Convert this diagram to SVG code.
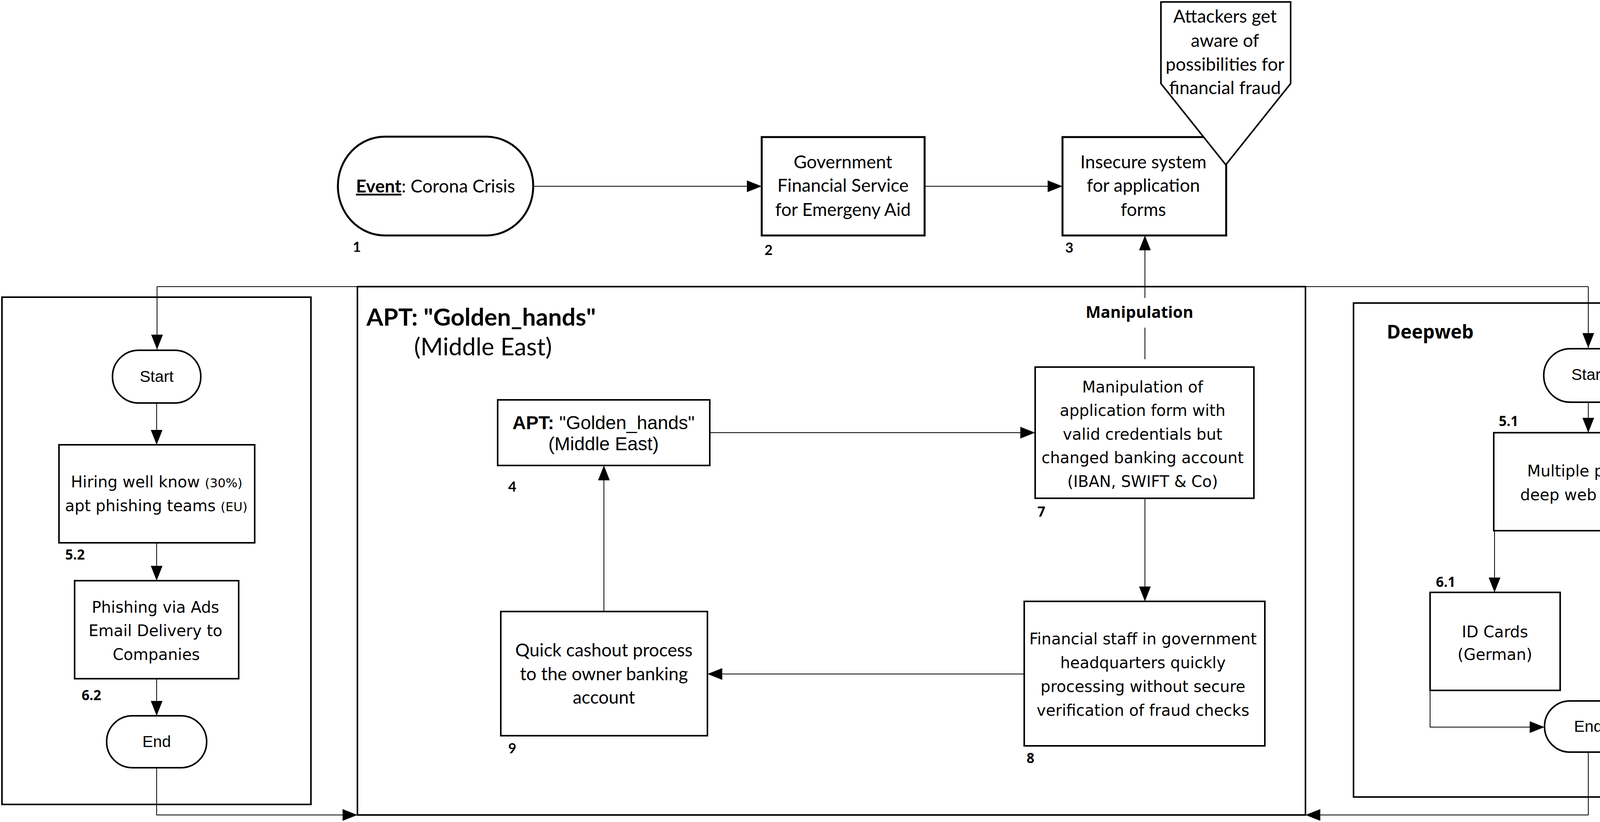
<svg xmlns="http://www.w3.org/2000/svg" width="4603" height="2105" viewBox="0 0 4603 2105">
<style>
.bg{fill:#fff}
.thick{fill:#fff;stroke:#000;stroke-width:5}
.box{fill:#fff;stroke:#000;stroke-width:4}
.lane{fill:none;stroke:#000;stroke-width:4}
.con{fill:none;stroke:#000;stroke-width:2}
.cal{font-family:Lato,"Liberation Sans",sans-serif;font-size:46px;fill:#000}
.ver{font-family:"DejaVu Sans",Verdana,sans-serif;font-size:40px;fill:#000}
.ari{font-family:"Liberation Sans",Arial,sans-serif;font-size:41px;fill:#000}
.osb{font-family:"Open Sans","DejaVu Sans",sans-serif;font-weight:bold;fill:#000}
.numc{font-family:Lato,"Liberation Sans",sans-serif;font-size:36px;font-weight:bold;fill:#000}
.numv{font-family:"Open Sans","DejaVu Sans",sans-serif;font-size:35px;font-weight:bold;fill:#000}
.mid{text-anchor:middle}
</style>
<defs>
<marker id="arr" markerUnits="userSpaceOnUse" markerWidth="40" markerHeight="32" refX="38" refY="15" orient="auto">
<path d="M0,0 L38,15 L0,30 Z" fill="#000"/>
</marker>
</defs>
<rect class="bg" x="0" y="0" width="4603" height="2105"/>

<g id="lanes">
<rect id="lane-left" class="lane" x="5" y="761" width="791" height="1299"/>
<rect id="lane-apt" class="lane" x="915" y="734" width="2427" height="1353"/>
<rect id="lane-deepweb" class="lane" x="3465" y="776" width="1129" height="1265"/>
<text class="cal" x="938" y="834" style="font-size:62px;font-weight:bold">APT: "Golden_hands"</text>
<text class="cal" x="1060" y="910" style="font-size:62px">(Middle East)</text>
<text class="osb" x="3550" y="867" style="font-size:48px">Deepweb</text>
</g>

<g id="connectors">
<path class="con" d="M1365,477 H1950" marker-end="url(#arr)"/>
<path class="con" d="M2367,477 H2720" marker-end="url(#arr)"/>
<path class="con" d="M2931,920 V839"/>
<path class="con" d="M2931,763 V603" marker-end="url(#arr)"/>
<path class="con" d="M402,734 H4066"/>
<path class="con" d="M402,734 V895" marker-end="url(#arr)"/>
<path class="con" d="M4066,734 V891" marker-end="url(#arr)"/>
<path class="con" d="M401,1032 V1139" marker-end="url(#arr)"/>
<path class="con" d="M401,1390 V1487" marker-end="url(#arr)"/>
<path class="con" d="M401,1738 V1833" marker-end="url(#arr)"/>
<path class="con" d="M401,1966 V2087 H915" marker-end="url(#arr)"/>
<path class="con" d="M1817,1108 H2650" marker-end="url(#arr)"/>
<path class="con" d="M2931,1276 V1540" marker-end="url(#arr)"/>
<path class="con" d="M2622,1726 H1811" marker-end="url(#arr)"/>
<path class="con" d="M1546,1566 V1192" marker-end="url(#arr)"/>
<path class="con" d="M4066,1030 V1108" marker-end="url(#arr)"/>
<path class="con" d="M3826,1359 V1517" marker-end="url(#arr)"/>
<path class="con" d="M4307,1359 V1517" marker-end="url(#arr)"/>
<path class="con" d="M3661,1768 V1862 H3954" marker-end="url(#arr)"/>
<path class="con" d="M4514,1768 V1862 H4176" marker-end="url(#arr)"/>
<path class="con" d="M4066,1926 V2087 H3342" marker-end="url(#arr)"/>
<text class="osb mid" x="2917" y="814" style="font-size:41px">Manipulation</text>
</g>

<g id="n1">
<rect class="thick" x="865" y="350" width="500" height="253" rx="120" ry="126"/>
<text class="cal mid" x="1115" y="493"><tspan font-weight="bold" text-decoration="underline">Event</tspan>: Corona Crisis</text>
<text class="numc" x="903" y="645">1</text>
</g>

<g id="n2">
<rect class="thick" x="1950" y="351" width="417" height="252"/>
<text class="cal mid" x="2158" y="431">Government</text>
<text class="cal mid" x="2158" y="491">Financial Service</text>
<text class="cal mid" x="2158" y="553">for Emergeny Aid</text>
<text class="numc" x="1957" y="653">2</text>
</g>

<g id="n3">
<rect class="thick" x="2720" y="351" width="419" height="252"/>
<text class="cal mid" x="2927" y="431">Insecure system</text>
<text class="cal mid" x="2927" y="491">for application</text>
<text class="cal mid" x="2927" y="553">forms</text>
<text class="numc" x="2727" y="647">3</text>
</g>

<g id="callout">
<polygon points="2972,5 3304,5 3304,214 3138,422 2972,214" fill="#fff" stroke="#000" stroke-width="4"/>
<text class="cal mid" x="3136" y="58">Attackers get</text>
<text class="cal mid" x="3136" y="120">aware of</text>
<text class="cal mid" x="3136" y="181">possibilities for</text>
<text class="cal mid" x="3136" y="241">financial fraud</text>
</g>

<g id="left-start">
<rect class="box" x="288" y="897" width="226" height="135" rx="67" ry="67" stroke-width="3"/>
<text class="ari mid" x="401" y="978">Start</text>
</g>

<g id="n5-2">
<rect class="box" x="151" y="1139" width="501" height="251"/>
<text class="ver mid" x="401" y="1248">Hiring well know <tspan style="font-size:32px">(30%)</tspan></text>
<text class="ver mid" x="400" y="1309">apt phishing teams <tspan style="font-size:32px">(EU)</tspan></text>
<text class="numv" x="167" y="1433">5.2</text>
</g>

<g id="n6-2">
<rect class="box" x="191" y="1487" width="420" height="251"/>
<text class="ver mid" x="398" y="1569">Phishing via Ads</text>
<text class="ver mid" x="398" y="1629">Email Delivery to</text>
<text class="ver mid" x="400" y="1690">Companies</text>
<text class="numv" x="209" y="1793">6.2</text>
</g>

<g id="left-end">
<rect class="box" x="273" y="1833" width="256" height="133" rx="66" ry="66" stroke-width="3"/>
<text class="ari mid" x="401" y="1913">End</text>
</g>

<g id="n4">
<rect class="box" x="1274" y="1024" width="543" height="168" stroke-width="3"/>
<text class="ari mid" x="1545" y="1099" style="font-size:48px"><tspan font-weight="bold">APT:</tspan> "Golden_hands"</text>
<text class="ari mid" x="1545" y="1153" style="font-size:48px">(Middle East)</text>
<text class="numc" x="1301" y="1259">4</text>
</g>

<g id="n7">
<rect class="box" x="2650" y="940" width="560" height="336" stroke-width="3"/>
<text class="ver mid" x="2925" y="1005">Manipulation of</text>
<text class="ver mid" x="2925" y="1065">application form with</text>
<text class="ver mid" x="2925" y="1126">valid credentials but</text>
<text class="ver mid" x="2925" y="1186">changed banking account</text>
<text class="ver mid" x="2925" y="1247">(IBAN, SWIFT &amp; Co)</text>
<text class="numv" x="2656" y="1323">7</text>
</g>

<g id="n8">
<rect class="box" x="2622" y="1540" width="616" height="370" stroke-width="3"/>
<text class="ver mid" x="2926" y="1650">Financial staff in government</text>
<text class="ver mid" x="2926" y="1711">headquarters quickly</text>
<text class="ver mid" x="2926" y="1772">processing without secure</text>
<text class="ver mid" x="2926" y="1833">verification of fraud checks</text>
<text class="numv" x="2628" y="1954">8</text>
</g>

<g id="n9">
<rect class="box" x="1282" y="1566" width="529" height="318" stroke-width="3"/>
<text class="cal mid" x="1546" y="1681">Quick cashout process</text>
<text class="cal mid" x="1546" y="1742">to the owner banking</text>
<text class="cal mid" x="1546" y="1802">account</text>
<text class="numc" x="1301" y="1929">9</text>
</g>

<g id="right-start">
<rect class="box" x="3952" y="893" width="227" height="137" rx="68" ry="68" stroke-width="3"/>
<text class="ari mid" x="4066" y="973">Start</text>
</g>

<g id="n5-1">
<rect class="box" x="3824" y="1108" width="483" height="251" stroke-width="3"/>
<text class="ver mid" x="4066" y="1220">Multiple private</text>
<text class="ver mid" x="4066" y="1281">deep web forums</text>
<text class="numv" x="3837" y="1091">5.1</text>
</g>

<g id="n6-1a">
<rect class="box" x="3661" y="1517" width="333" height="251" stroke-width="3"/>
<text class="ver mid" x="3827" y="1632">ID Cards</text>
<text class="ver mid" x="3827" y="1690">(German)</text>
<text class="numv" x="3676" y="1503">6.1</text>
</g>

<g id="n6-1b">
<rect class="box" x="4098" y="1517" width="416" height="251" stroke-width="3"/>
<text class="ver mid" x="4305" y="1632">Backing Accounts</text>
<text class="ver mid" x="4306" y="1690">VB, CB &amp; SPK</text>
<text class="numv" x="4443" y="1503">6.1</text>
</g>

<g id="right-end">
<rect class="box" x="3954" y="1795" width="222" height="131" rx="65" ry="65" stroke-width="3"/>
<text class="ari mid" x="4066" y="1874">End</text>
</g>
</svg>
